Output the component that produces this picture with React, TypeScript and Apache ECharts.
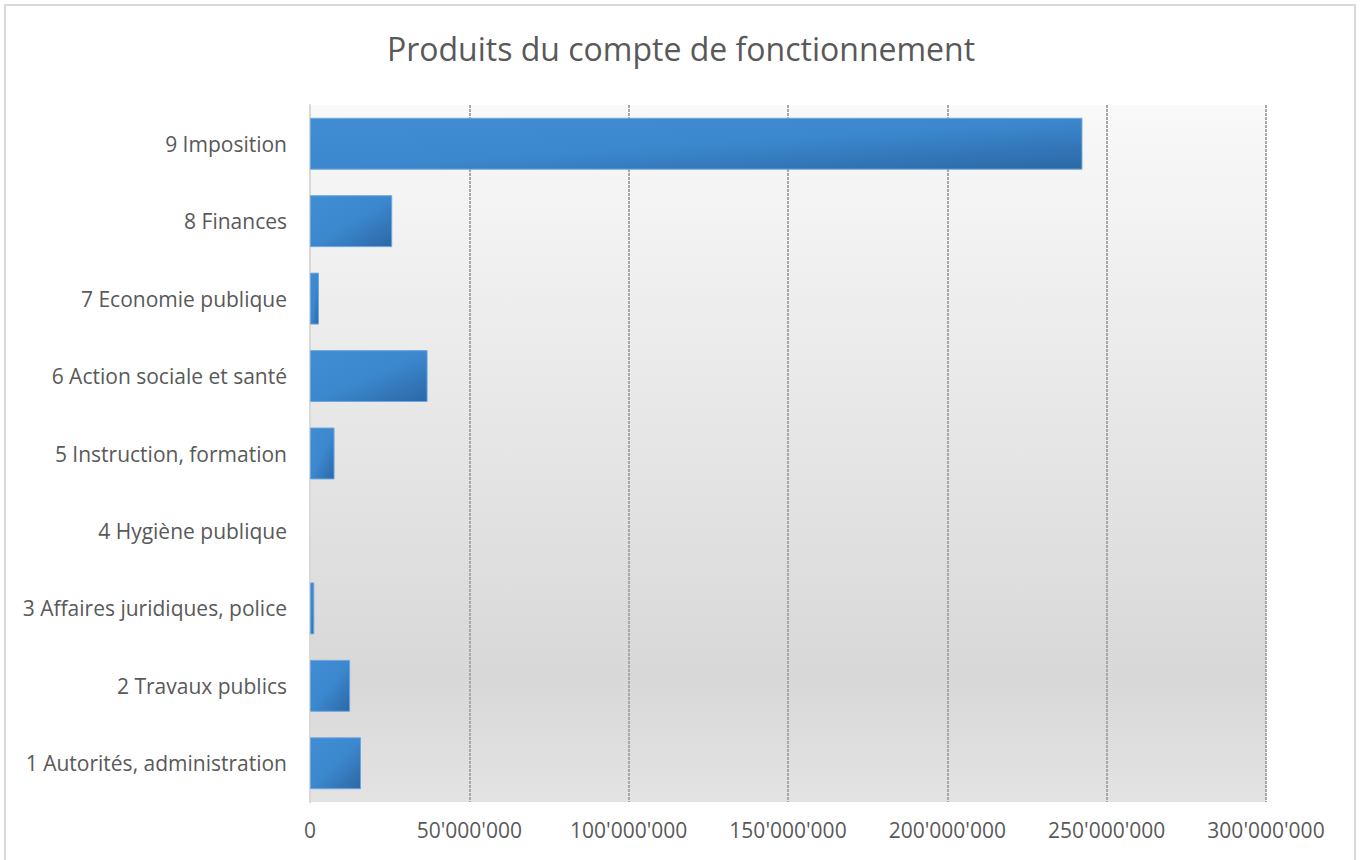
import React, { useEffect, useRef } from "react";
import * as echarts from "echarts";

const categories = [
  "1 Autorités, administration",
  "2 Travaux publics",
  "3 Affaires juridiques, police",
  "4 Hygiène publique",
  "5 Instruction, formation",
  "6 Action sociale et santé",
  "7 Economie publique",
  "8 Finances",
  "9 Imposition",
];
const values = [16000000, 12600000, 1350000, 0, 7700000, 36900000, 2800000, 25800000, 242400000];
const axisMax = 300000000;
const axisInterval = 50000000;
const titleText = "Produits du compte de fonctionnement";

const fmt = (v: number) => {
  const s = Math.round(v).toString();
  return s.replace(/\B(?=(\d{3})+(?!\d))/g, "'");
};

export default function App() {
  const ref = useRef<HTMLDivElement>(null);
  useEffect(() => {
    if (!ref.current) return;
    const chart = echarts.init(ref.current, undefined, { renderer: "svg" });
    const font = "'Open Sans', 'Noto Sans', sans-serif";
    chart.setOption({
      animation: false,
      backgroundColor: "#ffffff",
      title: {
        text: titleText,
        left: "center",
        top: 27,
        textStyle: { fontFamily: font, fontSize: 32, fontWeight: 400, color: "#595959" },
      },
      graphic: [
        {
          type: "rect",
          shape: { x: 5, y: 5, width: 1350, height: 880 },
          style: { fill: "none", stroke: "#d9d9d9", lineWidth: 2 },
          silent: true,
        },
      ],
      grid: {
        left: 310,
        right: 96,
        top: 105,
        bottom: 58,
        show: true,
        borderWidth: 0,
        backgroundColor: new echarts.graphic.LinearGradient(0, 0, 0, 1, [
          { offset: 0, color: "#f9f9f9" },
          { offset: 0.45, color: "#e7e7e7" },
          { offset: 0.82, color: "#d8d8d8" },
          { offset: 1, color: "#e3e3e3" },
        ]),
      },
      xAxis: {
        type: "value",
        min: 0,
        max: axisMax,
        interval: axisInterval,
        axisLine: { show: false },
        axisTick: { show: false },
        axisLabel: {
          formatter: (v: number) => fmt(v),
          color: "#595959",
          fontFamily: font,
          fontSize: 21,
          margin: 17,
        },
        splitLine: {
          show: true,
          showMinLine: false,
          lineStyle: { color: "#a8a8a8", width: 2, type: [3, 1] },
        },
      },
      yAxis: {
        type: "category",
        data: categories,
        axisLine: { show: true, lineStyle: { color: "#d9d9d9", width: 2 } },
        axisTick: { show: false },
        axisLabel: {
          color: "#595959",
          fontFamily: font,
          fontSize: 21,
          margin: 23,
        },
      },
      series: [
        {
          type: "bar",
          data: values.map((v) => (v === 0 ? { value: v, itemStyle: { borderWidth: 0, opacity: 0 } } : v)),
          barCategoryGap: "33%",
          itemStyle: {
            color: new echarts.graphic.LinearGradient(0, 0, 1, 1, [
              { offset: 0, color: "#418dd3" },
              { offset: 0.5, color: "#3c88cf" },
              { offset: 1, color: "#2b68a5" },
            ]),
            borderColor: "#6ea6dd",
            borderWidth: 1,
          },
        },
      ],
    });
    return () => chart.dispose();
  }, []);
  return (
    <div
      ref={ref}
      style={{ position: "fixed", left: 0, top: 0, width: 1362, height: 860, background: "#fff" }}
    />
  );
}
